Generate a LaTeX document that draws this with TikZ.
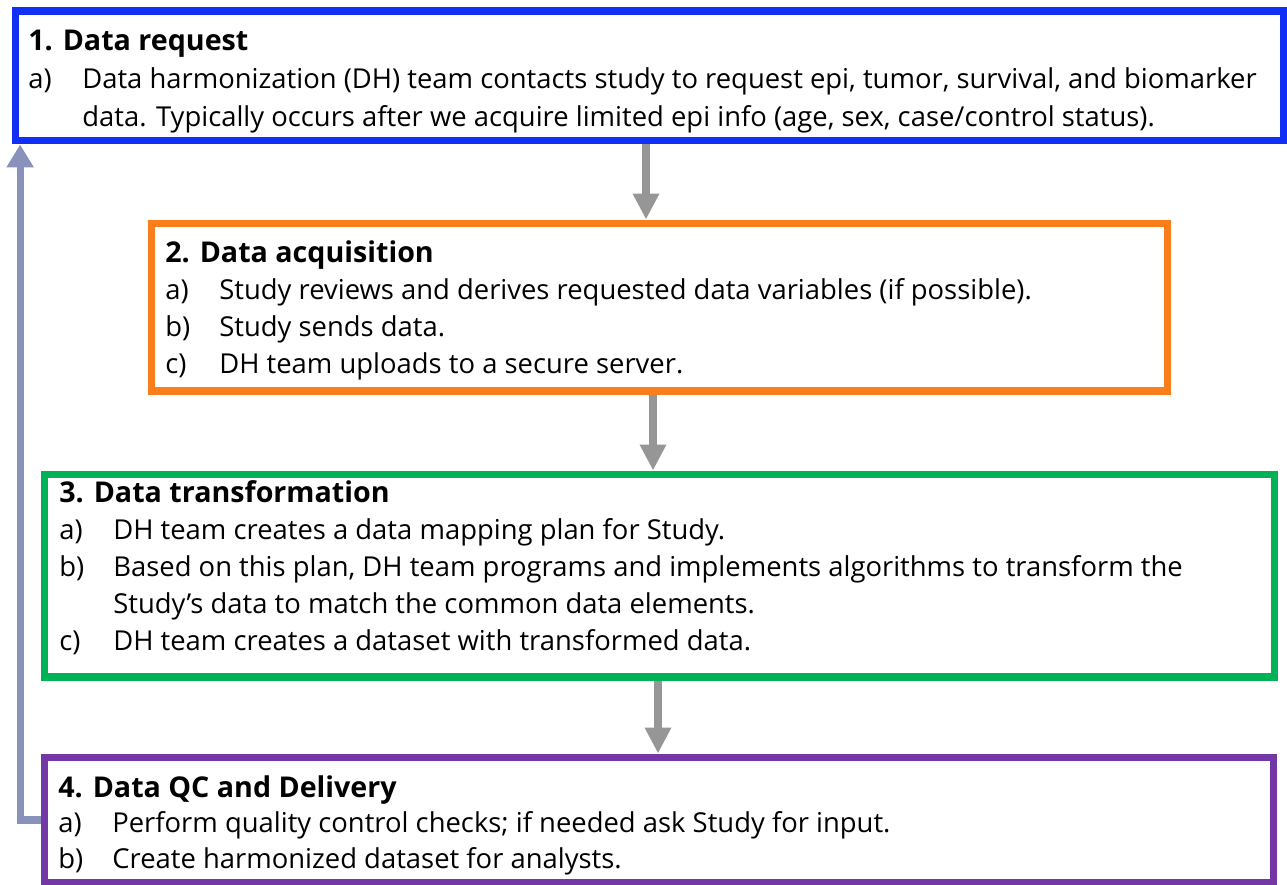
\documentclass[tikz,border=0pt]{standalone}
\usepackage{fontspec}
\setmainfont{Open Sans}
\usetikzlibrary{arrows.meta,positioning}

\definecolor{reqblue}{RGB}{18,48,245}
\definecolor{acqorange}{RGB}{250,126,28}
\definecolor{trfgreen}{RGB}{0,178,86}
\definecolor{qcpurple}{RGB}{116,56,166}
\definecolor{flowgray}{RGB}{150,150,150}
\definecolor{backblue}{RGB}{136,146,186}

% item label, hanging line and box title
\newcommand{\itm}[2]{\makebox[1.08cm][l]{#1}#2}
\newcommand{\cont}[1]{\hspace*{1.08cm}#1}
\newcommand{\boxtitle}[1]{{\fontsize{16.3pt}{16pt}\selectfont\bfseries #1}}

\begin{document}
\begin{tikzpicture}[x=0.02cm, y=-0.02cm,
  box/.style={draw=#1, line width=4pt, fill=white},
  txt/.style={anchor=base west, inner sep=0pt, align=left, font=\fontsize{15.6pt}{#1}\selectfont},
  txt/.default=21pt,
  flow/.style={draw=flowgray, line width=4.5pt, -{Triangle[width=0.5cm,length=0.52cm]}},
  back/.style={draw=backblue, line width=4pt, -{Triangle[width=0.52cm,length=0.46cm]}}]
\useasboundingbox (0,0) rectangle (1287,885);

\node[box=reqblue, minimum width=25.38cm, minimum height=2.6cm] (req) at (649.5,76) {};
\node[txt=21.8pt] (reqtxt) at (28,127) {\boxtitle{1. Data request}\\
\itm{a)}{Data harmonization (DH) team contacts study to request epi, tumor, survival, and biomarker}\\
\cont{data. Typically occurs after we acquire limited epi info (age, sex, case/control status).}};

\node[box=acqorange, minimum width=20.34cm, minimum height=3.36cm] (acq) at (659.5,307) {};
\node[txt] (acqtxt) at (165,373) {\boxtitle{2. Data acquisition}\\
\itm{a)}{Study reviews and derives requested data variables (if possible).}\\
\itm{b)}{Study sends data.}\\
\itm{c)}{DH team uploads to a secure server.}};

\node[box=trfgreen, minimum width=24.62cm, minimum height=4.06cm] (trf) at (659.5,575.5) {};
\node[txt] (trftxt) at (59,650) {\boxtitle{3. Data transformation}\\
\itm{a)}{DH team creates a data mapping plan for Study.}\\
\itm{b)}{Based on this plan, DH team programs and implements algorithms to transform the}\\
\cont{Study’s data to match the common data elements.}\\
\itm{c)}{DH team creates a dataset with transformed data.}};

\node[box=qcpurple, minimum width=24.6cm, minimum height=2.52cm] (qc) at (659,820) {};
\node[txt=20.2pt] (qctxt) at (58,868) {\boxtitle{4. Data QC and Delivery}\\
\itm{a)}{Perform quality control checks; if needed ask Study for input.}\\
\itm{b)}{Create harmonized dataset for analysts.}};

\draw[flow] ([xshift=-0.07cm]req.south) -- ([xshift=-0.07cm]req.south |- acq.north);
\draw[flow] ([xshift=-0.13cm]acq.south) -- ([xshift=-0.13cm]acq.south |- trf.north);
\draw[flow] ([xshift=-0.03cm]trf.south) -- ([xshift=-0.03cm]trf.south |- qc.north);
\draw[back] (qc.west) -| ([xshift=0.17cm]req.south west);
\end{tikzpicture}
\end{document}
